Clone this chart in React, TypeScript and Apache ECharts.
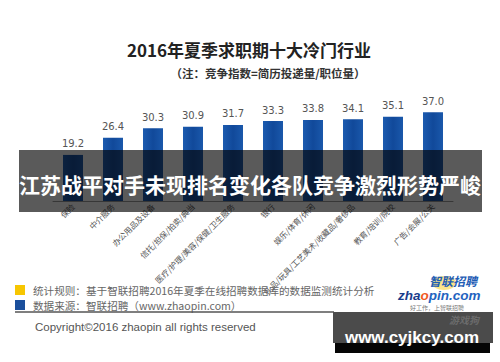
import React, { useEffect, useRef } from "react";
import * as echarts from "echarts";

const categories = [
  "保险",
  "中介服务",
  "办公用品及设备",
  "信托/担保/拍卖/典当",
  "医疗/护理/美容/保健/卫生服务",
  "银行",
  "娱乐/体育/休闲",
  "礼品/玩具/工艺美术/收藏品/奢侈品",
  "教育/培训/院校",
  "广告/会展/公关",
];
const values = [19.2, 26.4, 30.3, 30.9, 31.7, 33.3, 33.8, 34.1, 35.1, 37.0];

const titleText = "2016年夏季求职期十大冷门行业";
const subtitleText = "（注：竞争指数=简历投递量/职位量）";
const bannerText = "江苏战平对手未现排名变化各队竞争激烈形势严峻";
const ruleText = "统计规则：基于智联招聘2016年夏季在线招聘数据库的数据监测统计分析";
const sourceText = "数据来源：智联招聘（www.zhaopin.com）";
const copyrightText = "Copyright©2016 zhaopin all rights reserved";
const siteText = "www.cyjkcy.com";

const CJK = '"Noto Sans CJK SC"';

function txt(x: number, y: number, text: string, font: string, fill: string, align = "left", z = 10): any {
  return {
    type: "text",
    x,
    y,
    z,
    style: {
      text,
      font,
      fill,
      textAlign: align,
      textVerticalAlign: "middle",
      align,
      verticalAlign: "middle",
    },
  };
}

export default function App() {
  const ref = useRef<HTMLDivElement>(null);
  useEffect(() => {
    if (!ref.current) return;
    const chart = echarts.init(ref.current, null, { renderer: "svg" });
    chart.setOption({
      animation: false,
      backgroundColor: "#ffffff",
      grid: { left: 53, right: 47, top: 105, bottom: 161 },
      xAxis: {
        type: "category",
        data: categories,
        axisLine: { show: true, lineStyle: { color: "#999" } },
        axisTick: { show: false },
        axisLabel: {
          rotate: 45,
          interval: 0,
          margin: 4,
          fontSize: 8,
          color: "#555",
          fontFamily: CJK,
        },
      },
      yAxis: {
        type: "value",
        min: 0,
        max: 40,
        show: false,
        splitLine: { show: false },
      },
      series: [
        {
          type: "bar",
          data: values,
          barWidth: 20,
          itemStyle: {
            color: new echarts.graphic.LinearGradient(0, 0, 1, 0, [
              { offset: 0, color: "#1b5bb0" },
              { offset: 0.5, color: "#11499a" },
              { offset: 1, color: "#1a58ab" },
            ]),
          },
          label: {
            show: true,
            position: "top",
            distance: 6,
            fontSize: 10,
            color: "#555",
            fontFamily: "DejaVu Sans",
            formatter: (p: any) => Number(p.value).toFixed(1),
          },
        },
      ],
      graphic: [
        txt(249, 49, titleText, `bold 17px ${CJK}`, "#222", "center"),
        txt(268, 73, subtitleText, `bold 11.5px ${CJK}`, "#333", "center"),
        {
          type: "rect",
          z: 100,
          shape: { x: 19, y: 150, width: 463, height: 62 },
          style: { fill: "rgba(5,5,5,0.66)" },
        },
        txt(250, 184, bannerText, `bold 21px ${CJK}`, "#ffffff", "center", 101),
        {
          type: "rect",
          z: 10,
          shape: { x: 15, y: 285, width: 10, height: 10 },
          style: { fill: "#f7c600" },
        },
        txt(33, 290, ruleText, `10.6px ${CJK}`, "#666", "left"),
        {
          type: "rect",
          z: 10,
          shape: { x: 15, y: 300, width: 10, height: 10 },
          style: { fill: "#1b4f9c" },
        },
        txt(33, 305, sourceText, `10.6px ${CJK}`, "#666", "left"),
        {
          type: "line",
          z: 10,
          shape: { x1: 15, y1: 312, x2: 334, y2: 312 },
          style: { stroke: "#555", lineWidth: 1.5 },
        },
        txt(35, 327, copyrightText, `11.5px "Liberation Sans"`, "#555", "left"),
        {
          type: "ellipse",
          z: 9,
          shape: { cx: 444, cy: 283, rx: 12, ry: 7 },
          style: { fill: "rgba(250,205,40,0.55)" },
        },
        txt(453, 280, "智联招聘", `italic bold 12px ${CJK}`, "#1f5db5", "center"),
        {
          type: "text",
          x: 398,
          y: 295,
          z: 10,
          style: {
            text: "{a|zha}{b|o}{c|pin.com}",
            verticalAlign: "middle",
            textVerticalAlign: "middle",
            rich: {
              a: { font: 'italic bold 13.5px "Liberation Sans"', fill: "#1a3d8c", color: "#1a3d8c" },
              b: { font: 'italic bold 13.5px "Liberation Sans"', fill: "#f05a1e", color: "#f05a1e" },
              c: { font: 'italic bold 13.5px "Liberation Sans"', fill: "#1f63c0", color: "#1f63c0" },
            },
          },
        },
        txt(437, 307.5, "好工作，上智联招聘", `6px ${CJK}`, "#777", "center"),
        {
          type: "rect",
          z: 10,
          shape: { x: 333, y: 312, width: 160, height: 31 },
          style: { fill: "#4b4b4b" },
        },
        txt(464, 319, "游戏狗", `italic bold 10px ${CJK}`, "rgba(210,210,210,0.25)", "center", 11),
        {
          type: "rect",
          z: 10,
          shape: { x: 335, y: 343, width: 155, height: 10 },
          style: { fill: "#050505" },
        },
        txt(412, 337, siteText, `bold 17px "Liberation Sans"`, "#ffffff", "center", 12),
      ],
    });
    return () => chart.dispose();
  }, []);
  return <div ref={ref} style={{ width: 500, height: 362, position: "absolute", left: 0, top: 0 }} />;
}
